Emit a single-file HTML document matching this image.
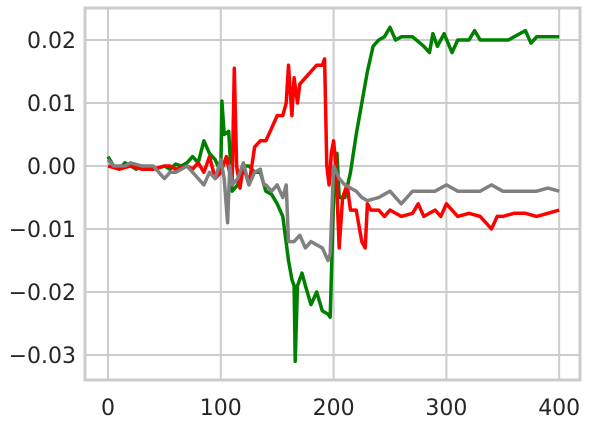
<!DOCTYPE html>
<html><head><meta charset="utf-8"><style>
html,body{margin:0;padding:0;background:#fff;width:591px;height:426px;overflow:hidden}
svg text{font-family:"DejaVu Sans","Liberation Sans",sans-serif;font-size:22px;fill:#262626}
</style></head><body>
<svg id="chart" width="591" height="426" xmlns="http://www.w3.org/2000/svg"></svg>
<script>
const greenX=[0,5,10,15,20,25,30,35,40,45,50,55,60,65,70,75,80,85,90,95,100,101,103,107,110,115,120,125,130,135,140,145,150,155,160,163,165,166,168,172,175,180,185,190,195,197,200,203,205,210,215,220,225,230,235,240,245,250,255,260,270,280,285,288,292,298,305,310,320,325,330,340,350,355,360,370,375,380,390,400];
const greenY=[1.5,0,-0.5,0.5,0,-0.5,0,-0.5,-0.5,-0.3,0,-0.5,0.3,0,0.5,1.5,0.5,4,2,1,-1,10.3,5,5.5,-4,-3,0,0,-1,-1,-4,-4.5,-6,-8,-15,-18,-19,-31,-19,-17,-19,-22,-20,-23,-23.5,-24,-5,2,-5,-5,-1,5,10,15,19,20,20.5,22,20,20.5,20.5,19,18,21,19,21,18,20,20,21.5,20,20,20,20,20.5,21.5,19.5,20.5,20.5,20.5];
const redX=[0,10,20,30,40,50,55,60,70,75,80,85,90,95,100,105,110,112,114,117,120,125,130,135,140,145,150,155,158,160,163,165,168,170,175,180,185,190,192,194,196,198,200,202,205,208,212,215,220,225,228,230,233,240,245,250,260,270,275,280,290,295,300,310,320,330,340,345,350,360,370,380,390,400];
const redY=[0,-0.5,0,-0.5,-0.5,0,0,-0.5,0,-0.5,0.5,-1,1.5,-2,-1,1.5,-3,15.5,0,-3.5,0,-3,3,4,4,6,8,8,10,16,8,14,10,13,14,15,16,16,17,0,-3,2,4,0,-13,-5,-3,-7,-7,-12,-13,-6,-7,-7,-8,-7,-8,-7.5,-6,-8,-7,-8,-6,-8,-7.5,-8,-10,-8,-8,-7.5,-7.5,-8,-7.5,-7];
const grayX=[0,5,10,15,20,30,40,45,50,55,60,65,70,80,85,90,95,100,103,106,108,110,115,120,125,130,135,138,140,145,150,155,158,160,165,170,175,180,185,190,195,197,200,205,210,215,220,225,230,240,245,250,255,260,265,270,280,290,300,310,320,330,340,350,360,370,380,390,400];
const grayY=[1,0,0,0,0.5,0,0,-1,-2,-1,-1,-0.5,0,-2,-3,-1,-2,1,-2,-9,0,-3,-2,0.5,-3,-1,-0.5,-3,-3,-4,-3,-5,-3,-12,-12,-11,-13,-12,-12.5,-13,-15,-14,0,-2,-3,-3.5,-4,-5,-5.5,-5,-4.5,-4,-5,-6,-5,-4,-4,-4,-3,-4,-4,-4,-3,-4,-4,-4,-4,-3.5,-4];
const xTicks=[0,100,200,300,400];
const yTicks=[0.02,0.01,0.00,-0.01,-0.02,-0.03];
const yTickLabels=["0.02","0.01","0.00","−0.01","−0.02","−0.03"];

const NS="http://www.w3.org/2000/svg";
const svg=document.getElementById('chart');
const L=85,R=580,T=8,B=380;
const xs=v=>108+v*1.128;
const ys=v=>166-v*6300;
function el(t,a){const e=document.createElementNS(NS,t);for(const k in a)e.setAttribute(k,a[k]);svg.appendChild(e);return e;}
xTicks.forEach((t,i)=>{
  const l=el('line',{x1:xs(t),x2:xs(t),y1:T,y2:B,stroke:'#cccccc','stroke-width':2});
  
  
  const tx=el('text',{x:xs(t),y:B+35,'text-anchor':'middle'});tx.textContent=t;
  
  
});
yTicks.forEach((t,i)=>{
  const l=el('line',{x1:L,x2:R,y1:ys(t),y2:ys(t),stroke:'#cccccc','stroke-width':2});
  
  
  const tx=el('text',{x:L-9,y:ys(t)+8,'text-anchor':'end'});tx.textContent=yTickLabels[i];
  
  
});
const frame=el('rect',{x:L,y:T,width:R-L,height:B-T,fill:'none',stroke:'#cccccc','stroke-width':3});


function series(X,Y,c,name){
  const d=X.map((x,i)=>(i?'L':'M')+xs(x).toFixed(1)+','+ys(Y[i]/1000).toFixed(1)).join('');
  const p=el('path',{d:d,fill:'none',stroke:c,'stroke-width':3.5,'stroke-linejoin':'round'});
  
  
}
series(greenX,greenY,'#008000','green-series');
series(redX,redY,'#ff0000','red-series');
series(grayX,grayY,'#808080','gray-series');
</script>
</body></html>
